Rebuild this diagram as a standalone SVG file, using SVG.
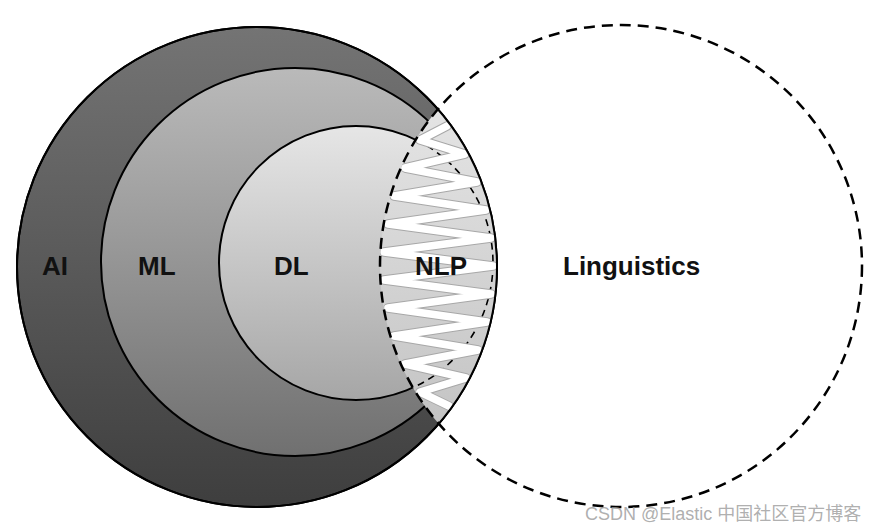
<svg xmlns="http://www.w3.org/2000/svg" width="880" height="531" viewBox="0 0 880 531">
  <style>
    .lbl { font-family: "Liberation Sans", Arial, sans-serif; font-weight: bold; font-size: 26px; fill: #111; }
    .edge { stroke: #000; stroke-width: 2; }
    .dash { fill: none; stroke: #000; stroke-width: 2.5; stroke-dasharray: 11 7; }
    .wm { font-family: "Liberation Sans", "Noto Sans CJK SC", sans-serif; font-size: 18px; fill: #9a9a9a; fill-opacity: 0.8; }
  </style>
  <defs>
    <linearGradient id="gAI" gradientUnits="userSpaceOnUse" x1="0" y1="27" x2="0" y2="508">
      <stop offset="0" stop-color="#747474"/>
      <stop offset="1" stop-color="#3e3e3e"/>
    </linearGradient>
    <linearGradient id="gML" gradientUnits="userSpaceOnUse" x1="0" y1="68" x2="0" y2="456">
      <stop offset="0" stop-color="#bababa"/>
      <stop offset="1" stop-color="#707070"/>
    </linearGradient>
    <linearGradient id="gDL" gradientUnits="userSpaceOnUse" x1="0" y1="126" x2="0" y2="400">
      <stop offset="0" stop-color="#e6e6e6"/>
      <stop offset="1" stop-color="#a6a6a6"/>
    </linearGradient>
    <linearGradient id="gNLP" gradientUnits="userSpaceOnUse" x1="0" y1="110" x2="0" y2="425">
      <stop offset="0" stop-color="#e4e4e4"/>
      <stop offset="1" stop-color="#c4c4c4"/>
    </linearGradient>
    <clipPath id="lens">
      <circle cx="621" cy="266" r="241"/>
    </clipPath>
    <clipPath id="aiClip">
      <circle cx="257" cy="267" r="240"/>
    </clipPath>
  </defs>
  <rect width="880" height="531" fill="#fff"/>

  <g id="node-ai">
    <circle cx="257" cy="267" r="240" fill="url(#gAI)" class="edge"/>
    <text class="lbl" x="42" y="275">AI</text>
  </g>
  <g id="node-ml">
    <circle cx="295" cy="262" r="194" fill="url(#gML)" class="edge"/>
    <text class="lbl" x="138" y="275">ML</text>
  </g>
  <g id="node-dl">
    <circle cx="356" cy="263" r="137" fill="url(#gDL)" class="edge"/>
    <text class="lbl" x="274" y="275">DL</text>
  </g>

  <g id="node-nlp">
    <g clip-path="url(#aiClip)">
      <g clip-path="url(#lens)">
        <rect x="370" y="100" width="140" height="330" fill="url(#gNLP)"/>
        <circle cx="356" cy="263" r="137" fill="none" stroke="#000" stroke-width="1.6" stroke-dasharray="7 5"/>
        <polyline fill="none" stroke="#a8a8a8" stroke-width="9.5" stroke-linejoin="round" stroke-linecap="round"
          points="447,126 420,140 465,154 405,168 477,182 394,196 486,210 388,224 491,238 384,252 493,266 384,280 491,294 388,308 487,322 394,336 478,350 405,364 466,378 420,392 449,406"/>
        <polyline fill="none" stroke="#fff" stroke-width="7.5" stroke-linejoin="round" stroke-linecap="round"
          points="447,126 420,140 465,154 405,168 477,182 394,196 486,210 388,224 491,238 384,252 493,266 384,280 491,294 388,308 487,322 394,336 478,350 405,364 466,378 420,392 449,406"/>
      </g>
    </g>
    <circle cx="257" cy="267" r="240" fill="none" class="edge"/>
    <text class="lbl" x="415" y="275">NLP</text>
  </g>

  <g id="node-linguistics">
    <circle cx="621" cy="266" r="241" class="dash"/>
    <text class="lbl" x="563" y="275">Linguistics</text>
  </g>

  <text class="wm" x="585" y="520">CSDN @Elastic 中国社区官方博客</text>
</svg>
